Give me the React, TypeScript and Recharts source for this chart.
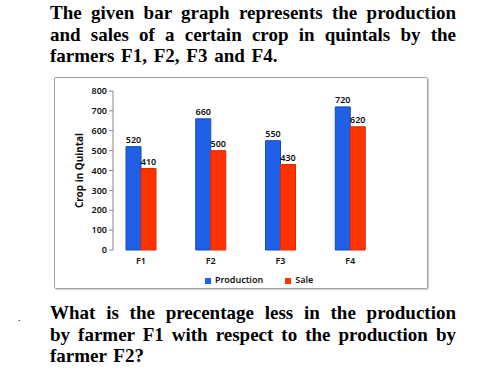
import React from "react";
import { BarChart, Bar, XAxis, YAxis, Legend, LabelList } from "recharts";

const farmers = ["F1", "F2", "F3", "F4"];
const production = [520, 660, 550, 720];
const sale = [410, 500, 430, 620];
const yTicks = [0, 100, 200, 300, 400, 500, 600, 700, 800];
const boundaryTicks = [0, 1, 2, 3, 4];

const data = farmers.map((f, i) => ({ name: f, Production: production[i], Sale: sale[i] }));

const textStyle: React.CSSProperties = {
  fontFamily: "'Liberation Serif', 'Times New Roman', serif",
  fontWeight: "bold",
  fontSize: 19,
  color: "#000",
  position: "absolute",
  left: 50,
  width: 406,
  whiteSpace: "nowrap",
  lineHeight: "21px",
};

const J = (top: number, text: string, justify = true) => (
  <div
    style={{
      ...textStyle,
      top,
      textAlign: justify ? "justify" : "left",
      textAlignLast: justify ? "justify" : "left",
      wordSpacing: justify ? undefined : 2,
    }}
  >
    {text}
  </div>
);

const axisFont = { fontSize: 9, fill: "#111", fontFamily: "'Noto Sans', sans-serif", fontWeight: 600 };

export default function App() {
  return (
    <div style={{ position: "absolute", left: 0, top: 0, width: 503, height: 374, background: "#fff", overflow: "hidden" }}>
      {J(2, "The given bar graph represents the production")}
      {J(24, "and sales of a certain crop in quintals by the")}
      {J(45, "farmers F1, F2, F3 and F4.", false)}
      <div
        style={{
          position: "absolute",
          left: 54,
          top: 77,
          width: 372,
          height: 210,
          border: "1px solid #a0a0a0",
          borderRadius: 2,
          boxShadow: "1px 1px 1px #ccc",
        }}
      >
        <BarChart
          width={372}
          height={210}
          data={data}
          margin={{ top: 13, right: 34, left: 18, bottom: 4 }}
          barGap={0}
          barSize={15}
        >
          <XAxis
            xAxisId="grid"
            type="number"
            domain={[0, 4]}
            ticks={boundaryTicks}
            height={0}
            tickSize={4}
            tickFormatter={() => ""}
            axisLine={{ stroke: "#888" }}
            tickLine={{ stroke: "#888" }}
          />
          <XAxis
            xAxisId="cat"
            dataKey="name"
            height={18}
            tickLine={false}
            axisLine={false}
            tick={axisFont}
            padding={{ left: -7, right: 8 }}
          />
          <YAxis
            width={40}
            domain={[0, 800]}
            ticks={yTicks}
            tickSize={4}
            axisLine={{ stroke: "#888" }}
            tickLine={{ stroke: "#888" }}
            tick={axisFont}
            label={{
              value: "Crop in Quintal",
              angle: -90,
              position: "insideLeft",
              offset: 6,
              style: { fontSize: 10, fontWeight: "bold", fill: "#111", fontFamily: "'Noto Sans', sans-serif", textAnchor: "middle" },
            }}
          />
          <Legend
            verticalAlign="bottom"
            align="left"
            height={16}
            iconType="square"
            iconSize={6}
            wrapperStyle={{ fontSize: 9, fontFamily: "'Noto Sans', sans-serif", fontWeight: 600, top: 195, left: 150, width: 200 }}
            formatter={(v: string) => (
              <span style={{ color: "#111", paddingRight: v === "Production" ? 12 : 0 }}>{v}</span>
            )}
          />
          <Bar xAxisId="cat" dataKey="Production" fill="#1f60e6" stroke="#1448b8" strokeWidth={1} isAnimationActive={false}>
            <LabelList dataKey="Production" position="top" offset={4} style={axisFont} />
          </Bar>
          <Bar xAxisId="cat" dataKey="Sale" fill="#ff3300" stroke="#e02a00" strokeWidth={1} isAnimationActive={false}>
            <LabelList dataKey="Sale" position="top" offset={4} style={axisFont} />
          </Bar>
        </BarChart>
      </div>
      <div style={{ position: "absolute", left: 18, top: 312, fontSize: 10, fontFamily: "'Liberation Serif', serif" }}>.</div>
      {J(302, "What is the precentage less in the production")}
      {J(324, "by farmer F1 with respect to the production by")}
      {J(345, "farmer F2?", false)}
    </div>
  );
}
